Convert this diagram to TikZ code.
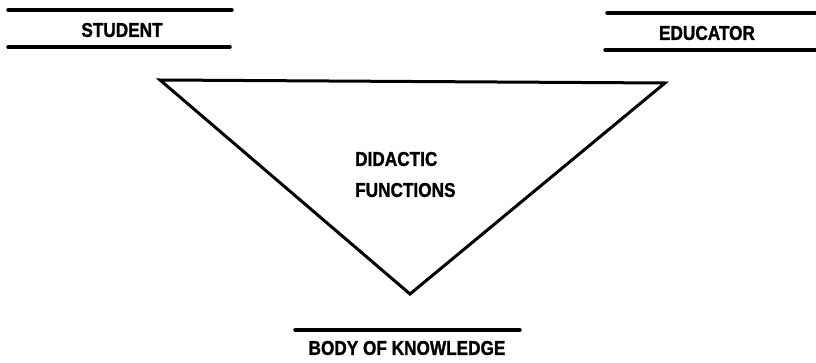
\documentclass[tikz,border=0pt]{standalone}
\usepackage{fontspec}
\setmainfont{Liberation Sans}
\newfontfamily\rolefont[FakeStretch=0.86, FakeBold=1.2]{Liberation Sans Bold}
\usetikzlibrary{positioning}

\tikzset{
  roletext/.style={font=\rolefont\fontsize{20}{31}\selectfont, inner sep=0pt},
  rule/.style={line width=3.5pt, line cap=round}
}

\begin{document}
\begin{tikzpicture}[x=1pt, y=-1pt, line join=miter]
        \useasboundingbox (0,0) rectangle (816,363);
        % Student
        \node[roletext] (student) at (122,30) {STUDENT};
        \draw [rule] (8,10) -- (232,10);
        \draw [rule] (8,47) -- (230,47);
        % Educator
        \node[roletext] (educator) at (707,33) {EDUCATOR};
        \draw [rule] (607,13) -- (816,13);
        \draw [rule] (605,50) -- (816,50);
        % Didactic triangle
        \coordinate (tl) at (160,80);
        \coordinate (tr) at (665,83);
        \coordinate (bot) at (410,294);
        \draw [line width=3pt] (tl) -- (tr) -- (bot) -- cycle;
        \node[roletext, align=left, anchor=west] (didactic) at (355,174.5) {DIDACTIC\\FUNCTIONS};
        % Body of knowledge
        \draw [rule] (295,330) -- (520,330);
        \node[roletext] (body) at (407,348) {BODY OF KNOWLEDGE};
    \end{tikzpicture}
\end{document}
